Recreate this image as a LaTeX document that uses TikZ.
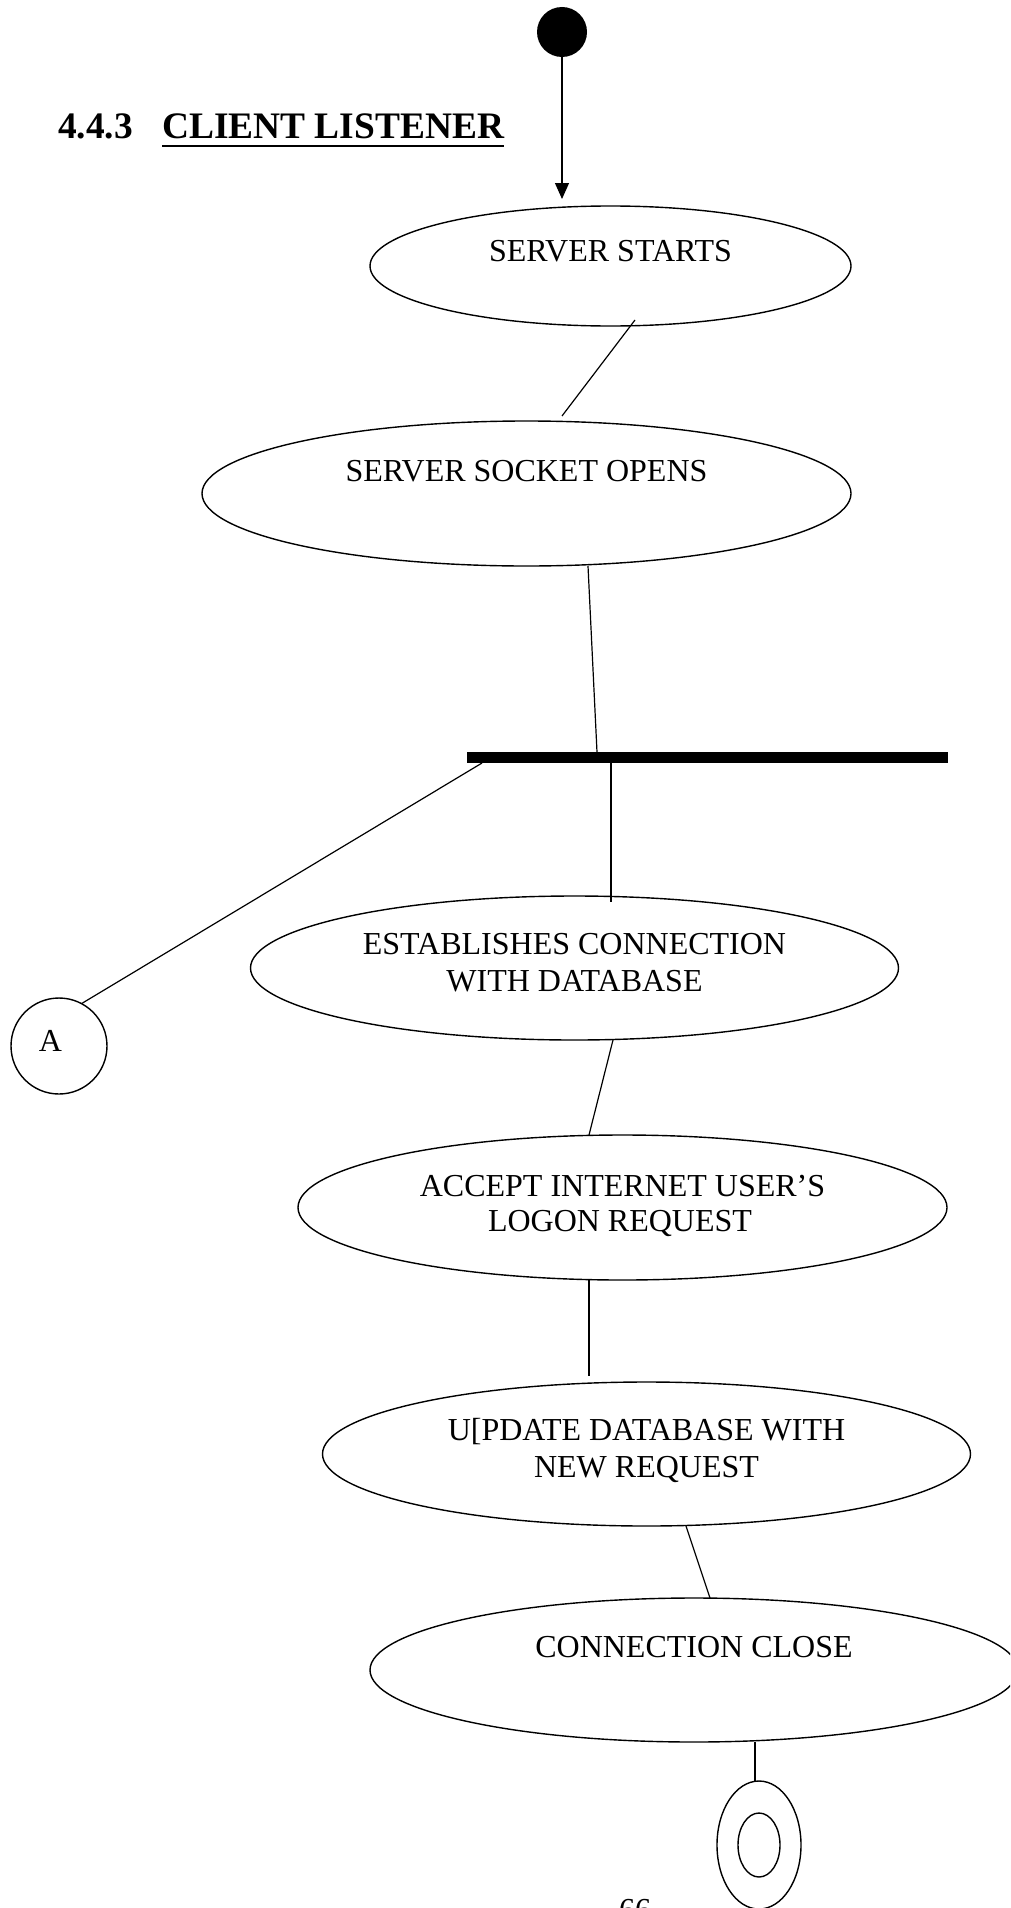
\documentclass[tikz,border=0pt]{standalone}
\usepackage{fontspec}
\setmainfont{Liberation Serif}
\usetikzlibrary{shapes.geometric,arrows.meta}

\begin{document}
\begin{tikzpicture}[x=1pt,y=-1pt,
  state/.style={ellipse, draw, line width=1.4pt, inner sep=0pt, outer sep=0pt},
  lbl/.style={anchor=base, inner sep=0pt, font=\fontsize{32}{37}\selectfont},
  link/.style={line width=1.2pt},
  heading/.style={anchor=base west, inner sep=0pt, font=\bfseries\fontsize{37.4}{44}\selectfont},
]
\useasboundingbox (0,0) rectangle (1010,1908);
\clip (0,0) rectangle (1010,1908);

% heading
\node[heading] (num) at (58,139) {4.4.3};
\node[heading] (ttl) at (162,139) {CLIENT LISTENER};
\draw[line width=2.8pt] ([yshift=-7pt]ttl.base west) -- ([yshift=-7pt]ttl.base east);

% initial state
\node[circle, fill, minimum size=50pt, inner sep=0pt, outer sep=0pt] (st) at (562,32) {};
\coordinate (tip) at (562,199);
\draw[link,-{Triangle[width=14pt,length=16pt]}] (st.south) -- (tip);

% activity states
\node[state, minimum width=481pt, minimum height=120pt] (s1) at (610.5,266) {};
\node[state, minimum width=649pt, minimum height=145pt] (s2) at (526.5,493.5) {};
\node[state, minimum width=648pt, minimum height=144pt] (s3) at (574.5,968) {};
\node[state, minimum width=649pt, minimum height=145pt] (s4) at (622.5,1207.5) {};
\node[state, minimum width=648pt, minimum height=144pt] (s5) at (646.5,1454) {};
\node[state, minimum width=648pt, minimum height=144pt] (s6) at (694,1670) {};

\node[lbl] (t1) at (610.5,261) {SERVER STARTS};
\node[lbl] (t2) at (526.5,481) {SERVER SOCKET OPENS};
\node[lbl] (t3a) at (574.5,954) {ESTABLISHES CONNECTION};
\node[lbl] (t3b) at (574.5,991) {WITH DATABASE};
\node[lbl] (t4a) at (622.5,1196) {ACCEPT INTERNET USER’S};
\node[lbl] (t4b) at (620,1231) {LOGON REQUEST};
\node[lbl] (t5a) at (646.5,1440) {U[PDATE DATABASE WITH};
\node[lbl] (t5b) at (646.5,1477) {NEW REQUEST};
\node[lbl] (t6) at (694,1657) {CONNECTION CLOSE};

% fork bar
\node[fill, minimum width=481pt, minimum height=11pt, inner sep=0pt, outer sep=0pt] (bar) at (707.5,757.5) {};

% connector A
\node[circle, draw, line width=1.4pt, minimum size=96pt, inner sep=0pt, outer sep=0pt] (A) at (59,1046) {};
\node[lbl] (tA) at (50.5,1051) {A};

% final state
\node[ellipse, draw, line width=1.4pt, minimum width=84pt, minimum height=128pt, inner sep=0pt, outer sep=0pt] (fin) at (759,1845) {};
\node[ellipse, draw, line width=1.4pt, minimum width=42pt, minimum height=64pt, inner sep=0pt, outer sep=0pt] (finin) at (759,1845) {};

% transitions
\draw[link] ([xshift=24.5pt,yshift=6pt]s1.south) -- ([xshift=35.5pt,yshift=5pt]s2.north);
\draw[link] ([xshift=61.5pt]s2.south) -- ([xshift=130pt]bar.north west);
\draw[link] ([xshift=144pt]bar.south west) -- ([xshift=36.5pt,yshift=-6pt]s3.north);
\draw[link] ([xshift=15pt]bar.south west) -- (A.62);
\draw[link] ([xshift=38.5pt]s3.south) -- ([xshift=-33.5pt]s4.north);
\draw[link] ([xshift=-33.5pt]s4.south) -- ([xshift=-57.5pt,yshift=6pt]s5.north);
\draw[link] ([xshift=39.5pt]s5.south) -- ([xshift=16pt]s6.north);
\draw[link] ([xshift=61pt]s6.south) -- ([xshift=-4pt]fin.north);

% page number, running off the foot of the page
\node[lbl] (pg) at (635,1920) {66};
\end{tikzpicture}
\end{document}
